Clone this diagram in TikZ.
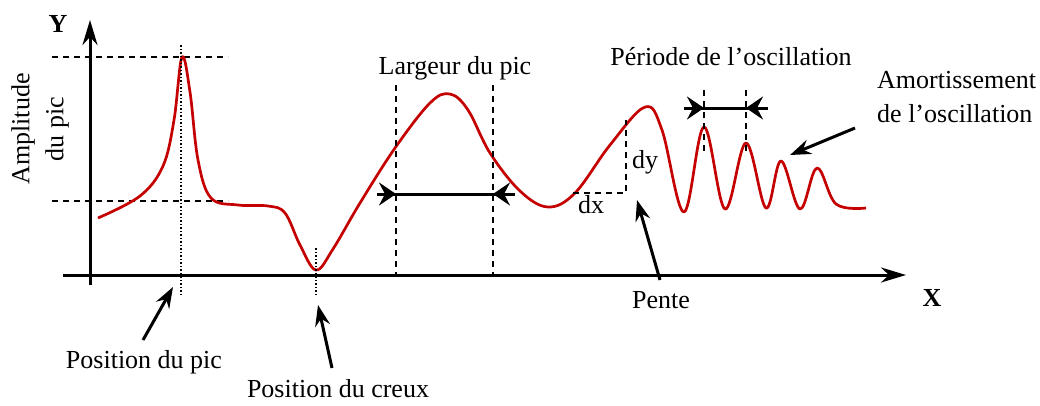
\documentclass[tikz,border=0pt]{standalone}
\usepackage{fontspec}
\setmainfont{Liberation Serif}
\usetikzlibrary{arrows.meta}
\definecolor{sigred}{RGB}{196,0,0}
\tikzset{
  axis/.style={line width=3pt,-{Stealth[length=25pt,width=15pt,inset=8pt]}},
  pointer/.style={line width=3pt,-{Stealth[length=21pt,width=15pt,inset=7pt]}},
  span/.style={line width=3pt,-{Stealth[length=17pt,width=23pt,inset=6pt]}},
  guide/.style={line width=1.7pt,dash pattern=on 6pt off 5pt},
  marker/.style={line width=1.6pt,dash pattern=on 1.5pt off 2pt},
  lbl/.style={font=\fontsize{26}{34}\selectfont,inner sep=0pt},
  signal/.style={line width=2.7pt,sigred,line join=round},
}
\begin{document}
\begin{tikzpicture}[x=1pt,y=-1pt]
  \useasboundingbox (0,0) rectangle (1040,405);
  % axes
  \coordinate (origin) at (90,285);
  \coordinate (ytop) at (90,20);
  \coordinate (xleft) at (63,275);
  \coordinate (xright) at (906,275);
  \draw[axis] (origin) -- (ytop);
  \draw[axis] (xleft) -- (xright);
  \node[lbl,font=\fontsize{26}{34}\selectfont\bfseries] (ylab) at (58,24) {Y};
  \node[lbl,font=\fontsize{26}{34}\selectfont\bfseries] (xlab) at (932,298) {X};
  % amplitude
  \draw[guide] (52,57) -- (228,57);
  \draw[guide] (52,201) -- (228,201);
  \node[lbl,rotate=90,align=center] (amp) at (40,129) {Amplitude\\du pic};
  % the signal
  \draw[signal] plot[smooth,tension=0.6] coordinates {
    (98,218) (140,196) (163,166) (174,120) (182,57) (190,92) (198,160)
    (211,198) (238,205) (268,206) (285,213) (300,245) (316,270) (333,249)
    (360,203) (395,148) (430,103) (450,94) (468,110) (490,153) (520,191)
    (548,207) (575,193) (610,145) (645,107) (662,130) (684,212) (704,127)
    (725,209) (746,143) (766,208) (781,161) (800,209) (817,168) (836,204)
    (866,208)};
  % position du pic
  \draw[marker] (181,45) -- (181,296);
  \node[lbl,anchor=base] (picpos) at (144,368) {Position du pic};
  \coordinate (pictail) at (143,340);
  \coordinate (pictip) at (173,287);
  \draw[pointer] (pictail) -- (pictip);
  % position du creux
  \draw[marker] (316,248) -- (316,295);
  \node[lbl,anchor=base] (creuxpos) at (338,397) {Position du creux};
  \coordinate (creuxtail) at (332,368);
  \coordinate (creuxtip) at (318,305);
  \draw[pointer] (creuxtail) -- (creuxtip);
  % largeur du pic
  \draw[guide] (396,85) -- (396,275);
  \draw[guide] (493,85) -- (493,275);
  \node[lbl,anchor=base] (largeur) at (455,74) {Largeur du pic};
  \coordinate (wleft) at (377,194);
  \coordinate (wright) at (515,194);
  \draw[line width=3pt] (wleft) -- (wright);
  \draw[span] (wleft) -- (396,194);
  \draw[span] (wright) -- (493,194);
  % pente
  \draw[guide] (573,193) -- (626,193) -- (626,120);
  \node[lbl,anchor=base] (dy) at (645,168) {dy};
  \node[lbl,anchor=base] (dx) at (591,213) {dx};
  \node[lbl,anchor=base] (pente) at (661,308) {Pente};
  \coordinate (pentetail) at (660,280);
  \coordinate (pentetip) at (637,200);
  \draw[pointer] (pentetail) -- (pentetip);
  % periode
  \draw[guide] (704,90) -- (704,155);
  \draw[guide] (746,90) -- (746,155);
  \node[lbl,anchor=base] (periode) at (731,65) {Période de l’oscillation};
  \coordinate (pleft) at (684,108);
  \coordinate (pright) at (768,108);
  \draw[line width=3pt] (pleft) -- (pright);
  \draw[span] (pleft) -- (704,108);
  \draw[span] (pright) -- (746,108);
  % amortissement
  \node[lbl,anchor=base west,align=left] (amort) at (877,122) {Amortissement\\de l’oscillation};
  \coordinate (amorttail) at (855,128);
  \coordinate (amorttip) at (790,155);
  \draw[pointer] (amorttail) -- (amorttip);
\end{tikzpicture}
\end{document}
